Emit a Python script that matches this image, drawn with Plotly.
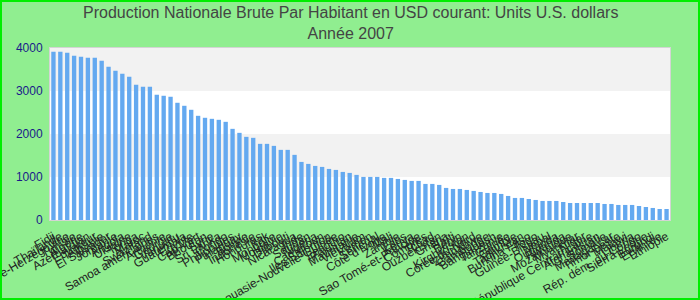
import plotly.graph_objects as go

countries = [
    "Fidji", "Thaïlande", "Bosnie-Herzégovine", "Tunisie", "Algérie", "Azerbaïdjan",
    "Équateur", "Albanie", "El Salvador", "Jordanie", "Angola", "Ukraine", "Tonga",
    "Maroc", "Swaziland", "Samoa américaines", "Arménie", "Géorgie", "Vanuatu",
    "Guatemala", "Égypte", "Cap-Vert", "Bhoutan", "Syrie", "Sri Lanka", "Congo",
    "Philippines", "Paraguay", "Bolivie", "Indonésie", "Honduras", "Irak", "Mongolie",
    "Moldavie", "Djibouti", "Nicaragua", "Inde", "Soudan", "Nigeria", "Cameroun",
    "Iles Salomon", "Papouasie-Nouvelle-Guinée", "Lesotho", "Pakistan", "Mauritanie",
    "Viêt Nam", "Yémen", "Sénégal", "Côte d'Ivoire", "Mali", "Zambie", "Laos", "Kenya",
    "Sao Tomé-et-Principe", "Comores", "Tchad", "Ouzbékistan", "Ghana", "Haïti", "Bénin",
    "Kirghizistan", "Corée du Nord", "Zimbabwe", "Cambodge", "Bangladesh", "Tanzanie",
    "Guinée", "Gambie", "Tadjikistan", "Burkina Faso", "Togo", "Guinée-Bissau", "Népal",
    "Ouganda", "Rwanda", "Mozambique", "Myanmar", "Niger", "République Centrafricaine",
    "Afghanistan", "Somalie", "Madagascar", "Timor-Leste", "Malawi", "Libéria",
    "Rép. dém. du Congo", "Sierra Leone", "Burundi", "Erythrée", "Ethiopie",
]

values = [
    3915, 3915, 3891, 3821, 3798, 3775, 3775, 3705, 3565, 3472, 3402, 3332, 3146,
    3099, 3099, 2913, 2889, 2866, 2726, 2656, 2563, 2423, 2377, 2353, 2330, 2283,
    2120, 2027, 1934, 1911, 1771, 1771, 1724, 1631, 1631, 1515, 1351, 1305, 1258,
    1235, 1188, 1165, 1118, 1095, 1049, 1002, 1002, 1002, 979, 979, 955, 932, 909,
    909, 839, 839, 816, 746, 722, 722, 699, 676, 652, 629, 629, 606, 559, 513, 513,
    489, 466, 443, 443, 443, 419, 396, 396, 396, 396, 396, 373, 373, 350, 350, 350,
    326, 303, 280, 256, 256,
]

y_ticks = [0, 1000, 2000, 3000, 4000]

W, H = 700, 300
ML, MR, MT, MB = 50, 30, 48, 80
PW, PH = W - ML - MR, H - MT - MB

fig = go.Figure(go.Bar(
    x=countries, y=values, marker=dict(color="#64a9f0", line=dict(width=0)),
))

shapes = []
for lo, hi in [(1000, 2000), (3000, 4000)]:
    shapes.append(dict(type="rect", xref="paper", yref="y", x0=0, x1=1, y0=lo, y1=hi,
                       fillcolor="#f2f2f2", line=dict(width=0), layer="below"))
# outer border
shapes.append(dict(type="rect", xref="paper", yref="paper",
                   x0=(-ML + 1) / PW, x1=1 + (MR - 1) / PW,
                   y0=(-MB + 1) / PH, y1=1 + (MT - 1) / PH,
                   line=dict(color="#00ee00", width=2), fillcolor="rgba(0,0,0,0)"))

fig.update_layout(
    width=W, height=H,
    margin=dict(l=ML, r=MR, t=MT, b=MB, autoexpand=False),
    paper_bgcolor="#90ee90", plot_bgcolor="white",
    bargap=0.37,
    showlegend=False,
    shapes=shapes,
    annotations=[dict(
        text="Production Nationale Brute Par Habitant en USD courant: Units U.S. dollars<br>Année 2007",
        xref="paper", yref="paper", x=(W / 2 - ML) / PW, y=1 + (MT - 2) / PH,
        xanchor="center", yanchor="top", showarrow=False, align="center",
        font=dict(family="Arial, Liberation Sans", size=16, color="#444"),
    )],
    xaxis=dict(
        type="category", tickmode="array", tickvals=countries, ticktext=countries,
        tickangle=-30, showgrid=False, showline=True, linecolor="#d4d4d4", linewidth=1,
        mirror=True, ticks="", zeroline=False, automargin=False, ticklabelstandoff=4,
        tickfont=dict(family="Arial, Liberation Sans", size=12, color="#222"),
    ),
    yaxis=dict(
        range=[0, 4000], tickvals=y_ticks, showgrid=False, zeroline=False,
        showline=True, linecolor="#d4d4d4", linewidth=1, mirror=True, automargin=False,
        ticklabelstandoff=4,
        tickfont=dict(family="Arial, Liberation Sans", size=12, color="#1a1a8a"),
    ),
)

fig.write_html("out.html")
